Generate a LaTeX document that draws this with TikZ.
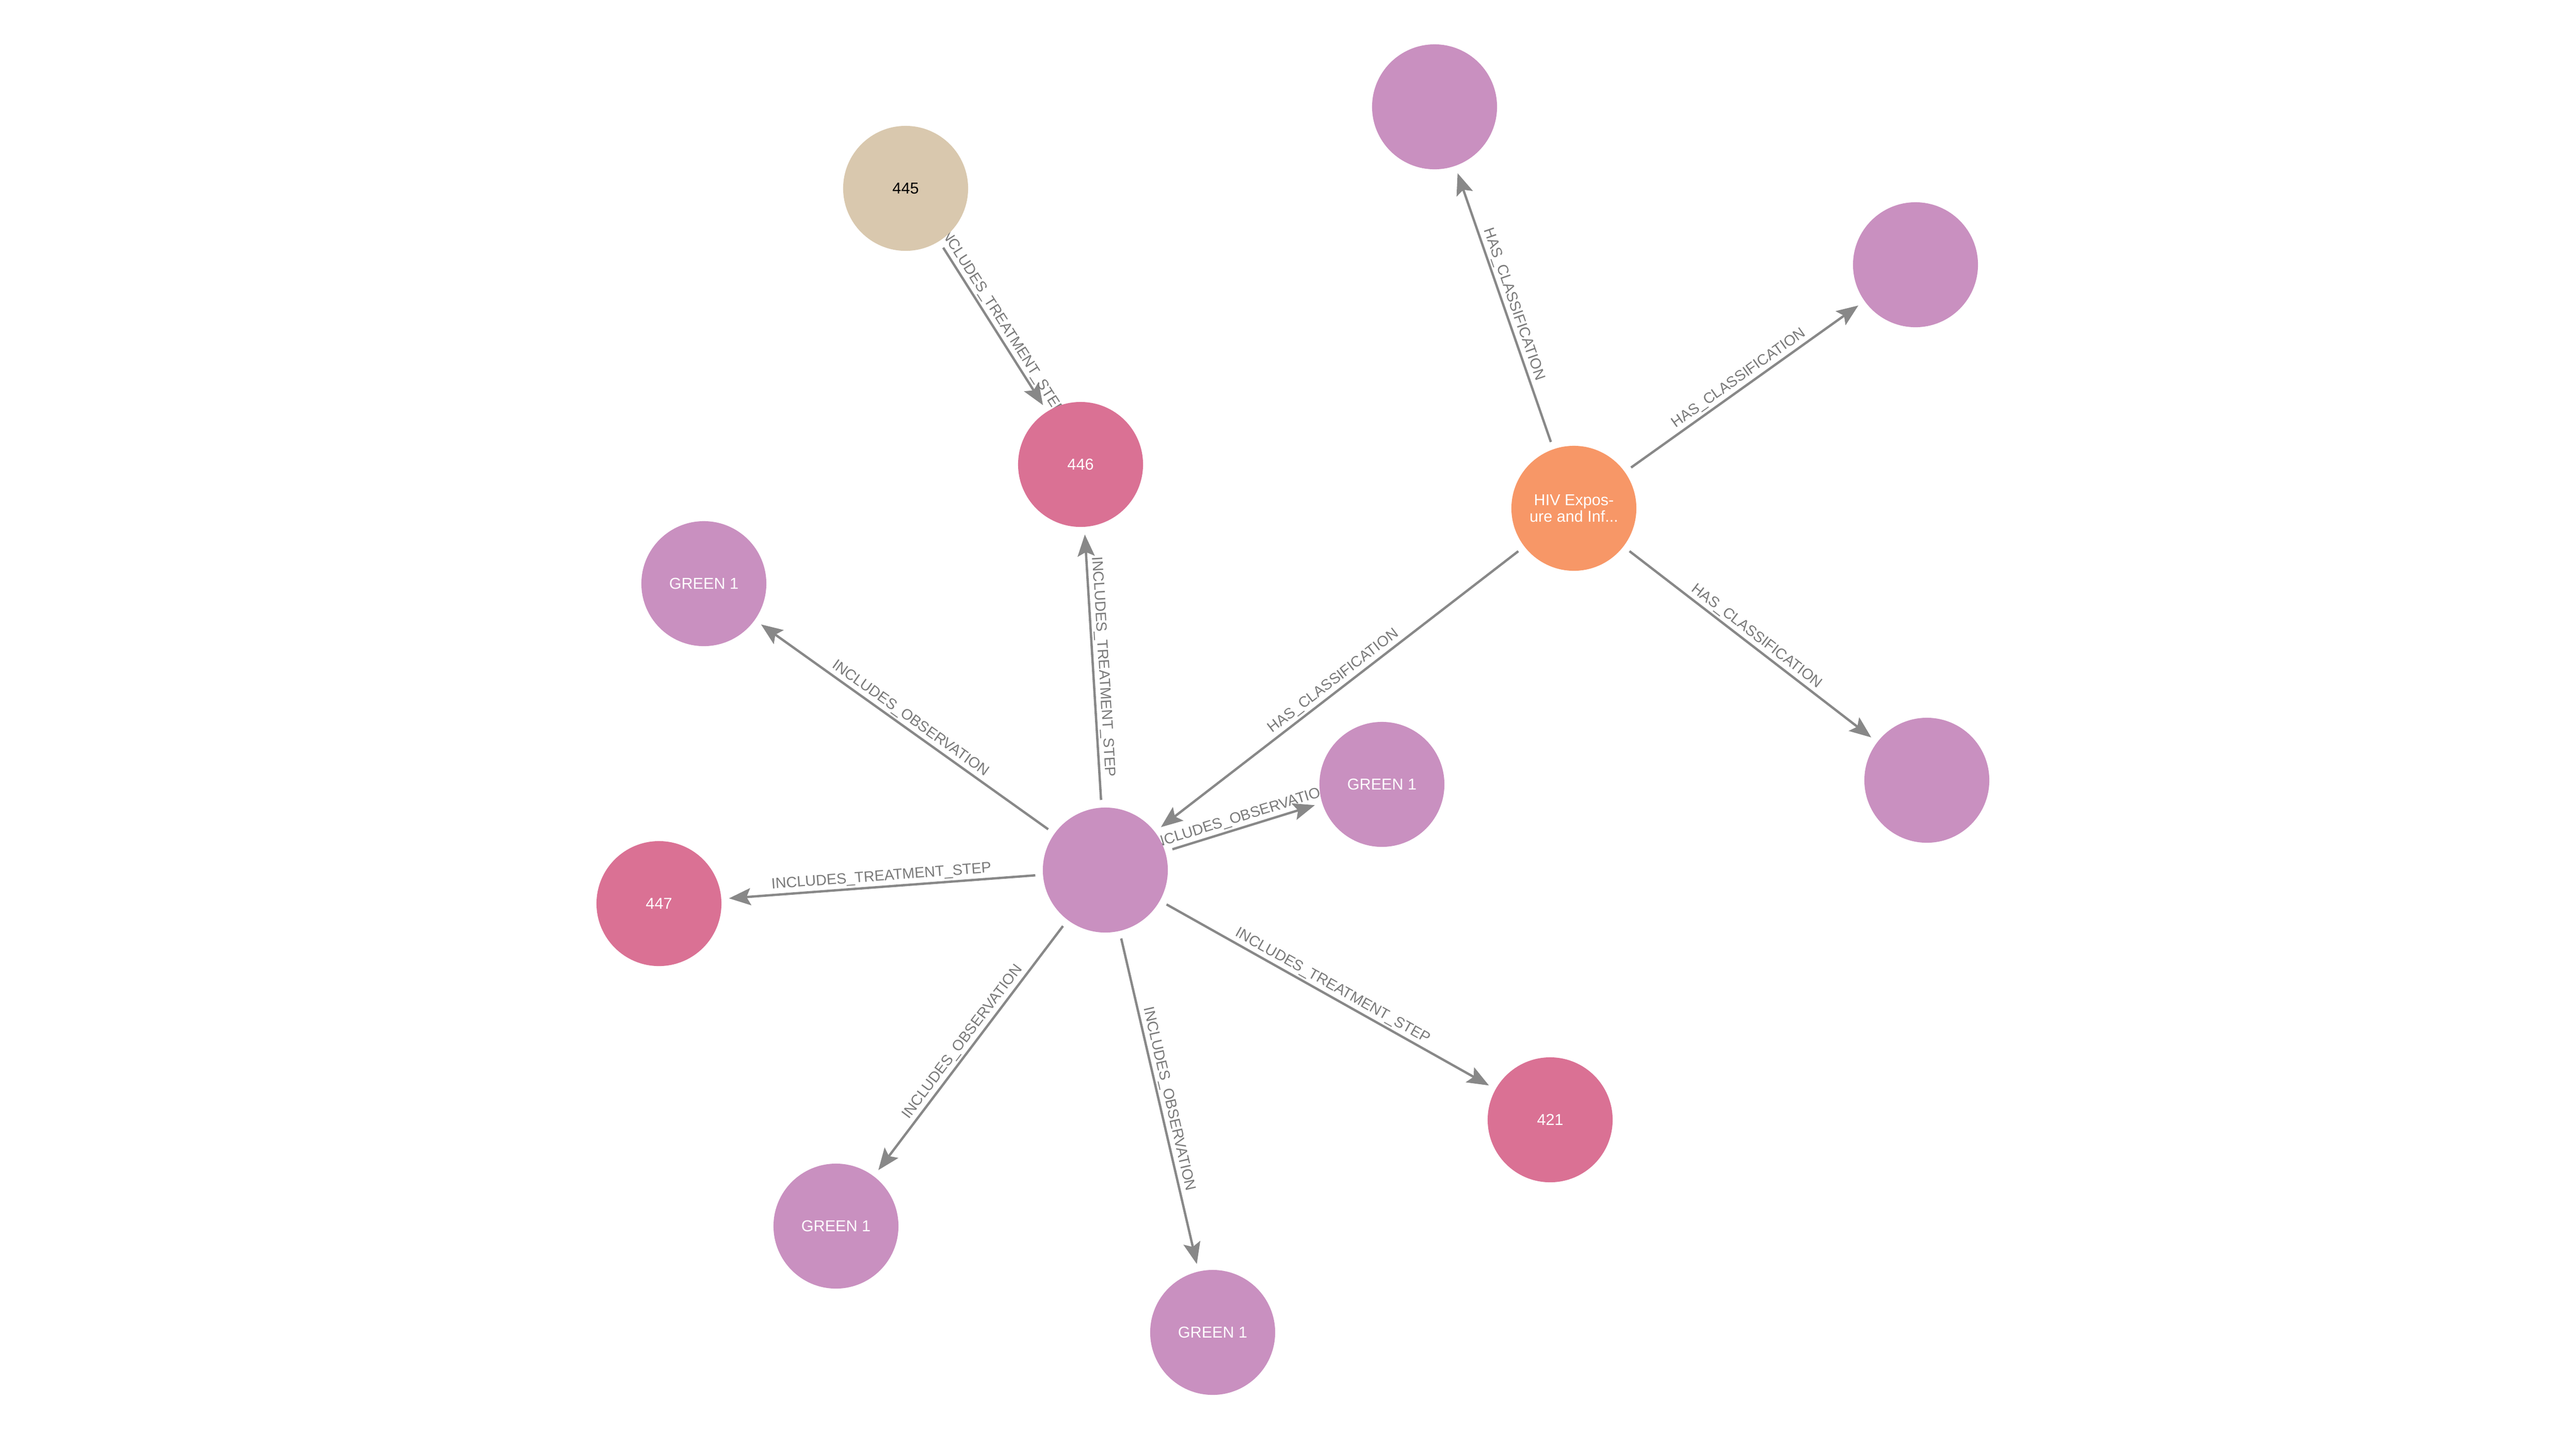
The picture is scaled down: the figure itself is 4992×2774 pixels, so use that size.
\documentclass[tikz,border=0pt]{standalone}
\usepackage{fontspec}
\setmainfont{Liberation Sans}
\usetikzlibrary{arrows.meta,backgrounds}

\definecolor{entpurple}{HTML}{C990C0}
\definecolor{entpink}{HTML}{DA7194}
\definecolor{entorange}{HTML}{F79767}
\definecolor{enttan}{HTML}{D9C8AE}
\definecolor{relgray}{HTML}{888888}
\definecolor{relText}{HTML}{7A7A7A}

\begin{document}
\begin{tikzpicture}[x=0.01cm, y=-0.01cm,
    ent/.style={circle, minimum size=2.42cm, inner sep=0pt, outer sep=0.15cm,
        text=white, align=center, font=\fontsize{8.7pt}{9.1pt}\selectfont},
    rel/.style={draw=relgray, line width=1.3pt,
        -{Stealth[length=0.42cm, width=0.33cm, inset=0.08cm]}},
    rellabel/.style={midway, sloped, above, inner sep=0.04cm, text=relText,
        font=\fontsize{8.2pt}{8.2pt}\selectfont}]

            \useasboundingbox (0,0) rectangle (4992,2774);

            % Treatment plan and its steps
            \node[ent, fill=enttan, text=black] (P445) at (1755,365) {445};
            \node[ent, fill=entpink] (S446) at (2094,900) {446};
            \node[ent, fill=entpink] (S447) at (1277,1751) {447};
            \node[ent, fill=entpink] (S421) at (3004,2170) {421};

            % Classification nodes
            \node[ent, fill=entorange] (HIV) at (3050,985) {HIV Expos-\\ure and Inf...};
            \node[ent, fill=entpurple] (C1) at (2780,207) {};
            \node[ent, fill=entpurple] (C2) at (3712,513) {};
            \node[ent, fill=entpurple] (C3) at (3734,1512) {};
            \node[ent, fill=entpurple] (Hub) at (2142,1686) {};

            % Observations
            \node[ent, fill=entpurple] (G1) at (1364,1131) {GREEN 1};
            \node[ent, fill=entpurple] (G2) at (2678,1520) {GREEN 1};
            \node[ent, fill=entpurple] (G3) at (1620,2376) {GREEN 1};
            \node[ent, fill=entpurple] (G4) at (2350,2582) {GREEN 1};

            \begin{scope}[on background layer]
            \fill[white] (0,0) rectangle (4992,2774);

            % Treatment step arrows
            \draw[rel] (P445) -- node[rellabel] {INCLUDES\_TREATMENT\_STEP} (S446);
            \draw[rel] (Hub) -- node[rellabel] {INCLUDES\_TREATMENT\_STEP} (S446);
            \draw[rel] (Hub) -- node[rellabel] {INCLUDES\_TREATMENT\_STEP} (S447);
            \draw[rel] (Hub) -- node[rellabel] {INCLUDES\_TREATMENT\_STEP} (S421);

            % Classification arrows
            \draw[rel] (HIV) -- node[rellabel] {HAS\_CLASSIFICATION} (C1);
            \draw[rel] (HIV) -- node[rellabel] {HAS\_CLASSIFICATION} (C2);
            \draw[rel] (HIV) -- node[rellabel] {HAS\_CLASSIFICATION} (C3);
            \draw[rel] (HIV) -- node[rellabel] {HAS\_CLASSIFICATION} (Hub);

            % Observation arrows
            \draw[rel] (Hub) -- node[rellabel] {INCLUDES\_OBSERVATION} (G1);
            \draw[rel] (Hub) -- node[rellabel] {INCLUDES\_OBSERVATION} (G2);
            \draw[rel] (Hub) -- node[rellabel] {INCLUDES\_OBSERVATION} (G3);
            \draw[rel] (Hub) -- node[rellabel] {INCLUDES\_OBSERVATION} (G4);
            \end{scope}

            \end{tikzpicture}
\end{document}
